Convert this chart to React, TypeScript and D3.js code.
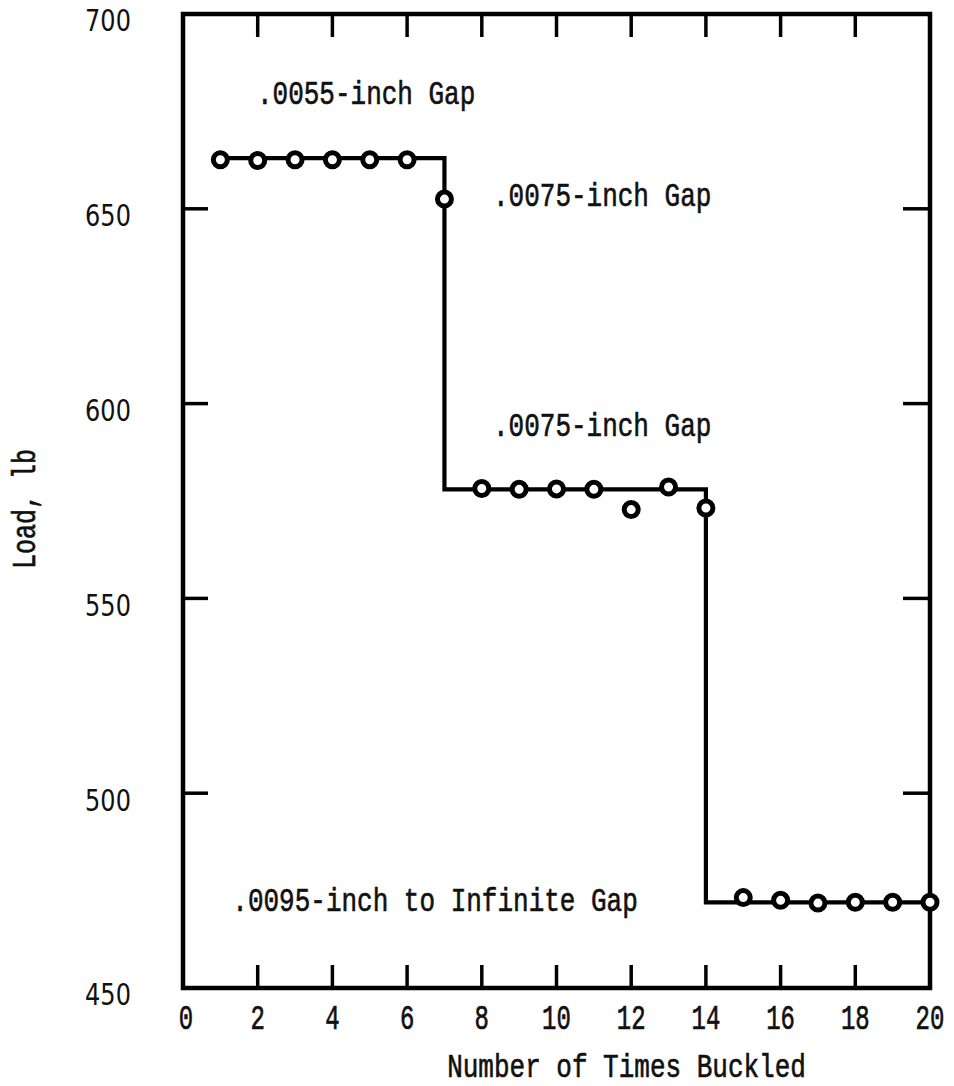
import React, { useEffect, useRef } from 'react';
import * as d3 from 'd3';

// buckling test points
const timesBuckled = [1, 2, 3, 4, 5, 6, 7, 8, 9, 10, 11, 12, 13, 14, 15, 16, 17, 18, 19, 20];
const loads = [662.6, 662.4, 662.6, 662.6, 662.6, 662.6, 652.5, 578.2, 578.0, 578.1, 578.0, 572.8, 578.6, 573.2, 473.2, 472.5, 471.8, 472.0, 472.0, 472.0];

// faired step line
const stepX = [1, 7, 7, 14, 14, 20];
const stepLoad = [663, 663, 578, 578, 472, 472];

const xTicks = [0, 2, 4, 6, 8, 10, 12, 14, 16, 18, 20];
const yTicks = [450, 500, 550, 600, 650, 700];

const gapLabels = ['.0055-inch Gap', '.0075-inch Gap', '.0075-inch Gap', '.0095-inch to Infinite Gap'];
const gapLabelX = [1.98, 8.3, 8.3, 1.32];
const gapLabelY = [679.1, 653.0, 594.0, 472.0];

export default function App() {
    const chartRef = useRef<SVGSVGElement | null>(null);

    useEffect(() => {
        if (!chartRef.current) return;
        const svg = d3.select(chartRef.current);
        svg.selectAll('*').remove();

        const W = 954, H = 1086;
        const left = 183, right = 930, top = 14, bottom = 988;
        const mono = '"Liberation Mono", "Courier New", monospace';
        const sans = '"DejaVu Sans", sans-serif';

        svg.append('rect').attr('width', W).attr('height', H).attr('fill', '#fff');

        const x = d3.scaleLinear().domain([0, 20]).range([left, right]);
        const y = d3.scaleLinear().domain([450, 700]).range([bottom, top]);

        // tall typewriter text: scale vertically
        const label = (tx: number, ty: number, s: string, font: string, size: number, anchor = 'start', sy = 1.3, rot = 0, sw = 0.5) => {
            svg.append('text')
                .attr('transform', `translate(${tx},${ty}) rotate(${rot}) scale(1,${sy})`)
                .attr('text-anchor', anchor)
                .attr('dominant-baseline', 'central')
                .style('font-family', font)
                .style('font-size', `${size}px`)
                .style('fill', '#111')
                .style('stroke', '#111')
                .style('stroke-width', sw)
                .text(s);
        };

        // inward ticks on all four sides
        const inner = xTicks.slice(1, -1);
        inner.forEach(t => {
            svg.append('line').attr('x1', x(t)).attr('x2', x(t)).attr('y1', bottom).attr('y2', bottom - 23)
                .attr('stroke', '#000').attr('stroke-width', 3.5);
            svg.append('line').attr('x1', x(t)).attr('x2', x(t)).attr('y1', top).attr('y2', top + 23)
                .attr('stroke', '#000').attr('stroke-width', 3.5);
        });
        yTicks.slice(1, -1).forEach(t => {
            svg.append('line').attr('x1', left).attr('x2', left + 25).attr('y1', y(t)).attr('y2', y(t))
                .attr('stroke', '#000').attr('stroke-width', 3.5);
            svg.append('line').attr('x1', right).attr('x2', right - 27).attr('y1', y(t)).attr('y2', y(t))
                .attr('stroke', '#000').attr('stroke-width', 3.5);
        });

        // frame
        svg.append('rect')
            .attr('x', left).attr('y', top)
            .attr('width', right - left).attr('height', bottom - top)
            .attr('fill', 'none').attr('stroke', '#000').attr('stroke-width', 4.5);

        // tick labels
        xTicks.forEach(t => label(x(t) + (t === 0 ? 3 : 0), 1020, String(t), mono, 24, 'middle', 1.45));
        yTicks.forEach(t => label(108, y(t) + 7, String(t), sans, 24, 'middle', 1.25, 0, 0));

        // axis titles
        label((left + right) / 2 + 70, 1068, 'Number of Times Buckled', mono, 26, 'middle', 1.3);
        label(27, 509, 'Load, lb', mono, 25, 'middle', 1.3, -90);

        // step line
        const line = d3.line<number>()
            .x((_, i) => x(stepX[i]))
            .y((_, i) => y(stepLoad[i]));
        svg.append('path')
            .attr('d', line(stepX))
            .attr('fill', 'none')
            .attr('stroke', '#000')
            .attr('stroke-width', 4.2)
            .attr('stroke-linejoin', 'miter');

        // points
        svg.selectAll('.pt')
            .data(timesBuckled)
            .enter()
            .append('circle')
            .attr('class', 'pt')
            .attr('cx', d => x(d))
            .attr('cy', (_, i) => y(loads[i]))
            .attr('r', 7)
            .attr('fill', '#fff')
            .attr('stroke', '#000')
            .attr('stroke-width', 5);

        // gap annotations
        gapLabels.forEach((s, i) => label(x(gapLabelX[i]), y(gapLabelY[i]), s, mono, 26, 'start', 1.3));
    }, []);

    return (
        <div style={{ position: 'absolute', left: 0, top: 0 }}>
            <svg ref={chartRef} width={954} height={1086} style={{ display: 'block' }}></svg>
        </div>
    );
}
